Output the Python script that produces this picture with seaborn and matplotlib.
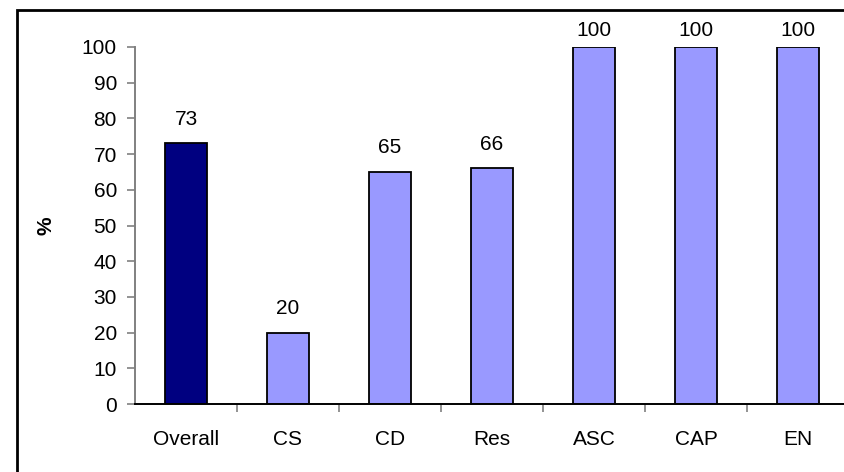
import matplotlib
matplotlib.use("Agg")
import matplotlib.pyplot as plt
import seaborn as sns
import pandas as pd
from matplotlib.patches import Rectangle

# data
categories = ["Overall", "CS", "CD", "Res", "ASC", "CAP", "EN"]
values = [73, 20, 65, 66, 100, 100, 100]
bar_colors = ["#000080", "#9999FF", "#9999FF", "#9999FF", "#9999FF", "#9999FF", "#9999FF"]

df = pd.DataFrame({"category": categories, "value": values})

sns.set_theme(style="white")
plt.rcParams["font.family"] = ["Liberation Sans", "DejaVu Sans"]
plt.rcParams["text.color"] = "black"
plt.rcParams["xtick.color"] = "black"
plt.rcParams["ytick.color"] = "black"
plt.rcParams["axes.labelcolor"] = "black"

fig = plt.figure(figsize=(8.45, 4.72), dpi=100)
ax = fig.add_axes([135 / 845, 1 - 404 / 472, 714 / 845, 357 / 472])

sns.barplot(
    data=df, x="category", y="value", hue="category",
    palette=dict(zip(categories, bar_colors)), legend=False,
    width=0.42, edgecolor="black", linewidth=1.3, saturation=1, ax=ax,
)

# value labels; the ones at the top get squeezed under the frame
for c in ax.containers:
    for bar in c:
        h = bar.get_height()
        pad = 5 if h >= 100 else 10.5
        ax.annotate(f"{h:.0f}", (bar.get_x() + bar.get_width() / 2, h),
                    xytext=(0, pad), textcoords="offset points",
                    ha="center", va="bottom", fontsize=15, color="black",
                    annotation_clip=False)

ax.set_xlim(-0.5, len(categories) - 0.5)
ax.set_ylim(0, 100)
ax.set_yticks(range(0, 101, 10))
ax.tick_params(axis="y", length=6, width=1.2, color="#808080", pad=7,
               labelsize=15, labelcolor="black", left=True)
ax.tick_params(axis="x", which="major", length=0, pad=19, labelsize=15,
               labelcolor="black")
ax.set_xticks([i + 0.5 for i in range(len(categories) - 1)], minor=True)
ax.tick_params(axis="x", which="minor", length=6, width=1.2, color="#808080",
               bottom=True, direction="out")
ax.set_xlabel("")
ax.set_ylabel("%", fontsize=15, fontweight="bold", color="black")
ax.yaxis.set_label_coords(-0.112, 0.5)

for s in ["top", "right"]:
    ax.spines[s].set_visible(False)
ax.spines["left"].set_color("#808080")
ax.spines["left"].set_linewidth(1.4)
ax.spines["bottom"].set_color("black")
ax.spines["bottom"].set_linewidth(1.4)

# outer chart frame (cut off on right and bottom)
fig.patches.append(Rectangle((17 / 845, -0.1), 1.2, 1.1 - 10 / 472,
                             transform=fig.transFigure, fill=False,
                             edgecolor="black", linewidth=2))

fig.savefig("out.png", dpi=100)
